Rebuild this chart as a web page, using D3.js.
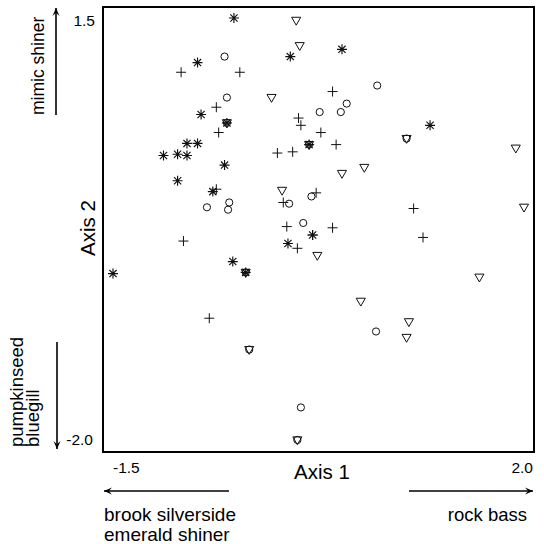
<!DOCTYPE html>
<html>
<head>
<meta charset="utf-8">
<script src="https://cdn.jsdelivr.net/npm/d3@7"></script>
<style>
  html, body { margin: 0; padding: 0; background: #fff; }
  svg { display: block; font-family: "Liberation Sans", Arial, Helvetica, sans-serif; }
</style>
</head>
<body>
<script>
// ---- Data (ordination scores) ----
const asteriskX = [-0.47, 0.01, -0.78, -0.75, -0.87, -0.78, -1.07, -0.95, -0.87, -0.55, -0.95, -0.65, 0.20, -0.01, -0.48, -1.50, 0.45, 1.20, -0.53, -0.37, 0.17];
const asteriskY = [1.50, 1.18, 1.13, 0.70, 0.46, 0.46, 0.36, 0.37, 0.36, 0.28, 0.15, 0.06, -0.30, -0.37, -0.52, -0.62, 1.24, 0.61, 0.63, -0.61, 0.45];

const plusX = [-0.92, -0.42, -0.62, -0.60, 0.08, 0.10, -0.10, 0.03, 0.37, 0.27, 0.40, -0.62, -0.05, 0.23, -0.02, 0.37, 0.07, -0.90, 1.06, 1.14, -0.68, 0.20];
const plusY = [1.05, 1.05, 0.76, 0.55, 0.67, 0.61, 0.38, 0.39, 0.89, 0.55, 0.45, 0.08, -0.03, 0.05, -0.23, -0.24, -0.41, -0.35, -0.08, -0.32, -0.99, -0.30];

const circleX = [-0.55, -0.53, 0.26, 0.75, 0.49, 0.44, 0.00, 0.19, 0.12, -0.70, -0.51, -0.52, 0.74, 0.10, 1.00, -0.34, 0.07, -0.53, -0.37, 0.17];
const circleY = [1.18, 0.84, 0.72, 0.94, 0.79, 0.72, -0.04, 0.02, -0.20, -0.07, -0.03, -0.09, -1.10, -1.73, 0.50, -1.25, -2.00, 0.63, -0.61, 0.45];

const triangleX = [0.06, 0.09, -0.15, 1.93, 0.45, 0.64, -0.06, 2.00, 0.24, 1.62, 0.61, 1.02, 1.00, 1.00, -0.34, 0.07, -0.53, -0.37, 0.17];
const triangleY = [1.48, 1.27, 0.84, 0.42, 0.21, 0.26, 0.07, -0.07, -0.47, -0.65, -0.85, -1.02, -1.15, 0.50, -1.25, -2.00, 0.63, -0.61, 0.45];

const xTickLabels = ["-1.5", "2.0"];
const yTickLabels = ["1.5", "-2.0"];
const xTickValues = [-1.5, 2.0];
const yTickValues = [1.5, -2.0];

const axisTitles = ["Axis 1", "Axis 2"];
const leftLabels = ["brook silverside", "emerald shiner"];
const rightLabels = ["rock bass"];
const topLabels = ["mimic shiner"];
const bottomLabels = ["pumpkinseed", "bluegill"];

// ---- Layout ----
const W = 544, H = 544;
const box = { left: 103, right: 534, top: 7, bottom: 452 };

const x = d3.scaleLinear().domain([-1.5, 2.0]).range([113, 524]);
const y = d3.scaleLinear().domain([-2.0, 1.5]).range([440, 18]);

const svg = d3.select("body").append("svg").attr("width", W).attr("height", H);

// Plot frame
svg.append("rect")
  .attr("x", box.left).attr("y", box.top)
  .attr("width", box.right - box.left).attr("height", box.bottom - box.top)
  .attr("fill", "none").attr("stroke", "#000").attr("stroke-width", 2);

const ink = "#111";
const g = svg.append("g").attr("fill", "none").attr("stroke", ink).attr("stroke-width", 1);

// circles
g.selectAll("circle.c").data(d3.zip(circleX, circleY)).join("circle")
  .attr("class", "c")
  .attr("cx", d => x(d[0])).attr("cy", d => y(d[1])).attr("r", 3.6);

// down triangles
const tri = d3.symbol().type(d3.symbolTriangle).size(36);
g.selectAll("path.t").data(d3.zip(triangleX, triangleY)).join("path")
  .attr("class", "t")
  .attr("d", tri)
  .attr("transform", d => `translate(${x(d[0])},${y(d[1]) - 0.5}) rotate(180)`);

// plus
const plusPath = "M-5,0H5M0,-5V5";
g.selectAll("path.p").data(d3.zip(plusX, plusY)).join("path")
  .attr("class", "p")
  .attr("d", plusPath)
  .attr("transform", d => `translate(${x(d[0])},${y(d[1])})`);

// asterisk (8 arms)
const astPath = "M-5,0H5M0,-5V5M-3.6,-3.6L3.6,3.6M-3.6,3.6L3.6,-3.6";
g.selectAll("path.a").data(d3.zip(asteriskX, asteriskY)).join("path")
  .attr("class", "a")
  .attr("d", astPath)
  .attr("stroke-width", 1.15)
  .attr("transform", d => `translate(${x(d[0])},${y(d[1])})`);

// ---- Axis labels ----
svg.append("text").attr("x", 113).attr("y", 473).attr("font-size", 15.5)
  .attr("text-anchor", "start").text(xTickLabels[0]);
svg.append("text").attr("x", 533).attr("y", 473).attr("font-size", 15.5)
  .attr("text-anchor", "end").text(xTickLabels[1]);
svg.append("text").attr("x", 95).attr("y", y(yTickValues[0]) + 8).attr("font-size", 15.5)
  .attr("text-anchor", "end").text(yTickLabels[0]);
svg.append("text").attr("x", 93).attr("y", y(yTickValues[1]) + 5).attr("font-size", 15.5)
  .attr("text-anchor", "end").text(yTickLabels[1]);

svg.append("text").attr("x", 322).attr("y", 479).attr("font-size", 20.5)
  .attr("text-anchor", "middle").text(axisTitles[0]);
svg.append("text").attr("transform", "translate(95,228) rotate(-90)").attr("font-size", 20.5)
  .attr("text-anchor", "middle").text(axisTitles[1]);

// ---- Arrows ----
function arrow(x1, y1, x2, y2) {
  svg.append("line").attr("x1", x1).attr("y1", y1).attr("x2", x2).attr("y2", y2)
    .attr("stroke", "#000").attr("stroke-width", 1.6);
  const ang = Math.atan2(y2 - y1, x2 - x1);
  const L = 8, Wd = 3.5;
  const bx = x2 - L * Math.cos(ang), by = y2 - L * Math.sin(ang);
  const nx = -Math.sin(ang), ny = Math.cos(ang);
  const mx = x2 - (L * 0.6) * Math.cos(ang), my = y2 - (L * 0.6) * Math.sin(ang);
  svg.append("path")
    .attr("d", `M${x2},${y2}L${bx + nx * Wd},${by + ny * Wd}L${mx},${my}L${bx - nx * Wd},${by - ny * Wd}Z`)
    .attr("fill", "#000");
}
arrow(229, 491, 104, 491);
arrow(409, 491, 533, 491);
arrow(56, 115, 56, 8);
arrow(57, 342, 57, 449);

// ---- Species labels ----
svg.append("text").attr("x", 104).attr("y", 521).attr("font-size", 19).text(leftLabels[0]);
svg.append("text").attr("x", 104).attr("y", 541).attr("font-size", 19).text(leftLabels[1]);
svg.append("text").attr("x", 527).attr("y", 521).attr("font-size", 18.5)
  .attr("text-anchor", "end").text(rightLabels[0]);
svg.append("text").attr("transform", "translate(44,115) rotate(-90)").attr("font-size", 17.5)
  .attr("text-anchor", "start").text(topLabels[0]);
svg.append("text").attr("transform", "translate(23,447) rotate(-90)").attr("font-size", 18.5)
  .attr("text-anchor", "start").text(bottomLabels[0]);
svg.append("text").attr("transform", "translate(39,447) rotate(-90)").attr("font-size", 18.5)
  .attr("text-anchor", "start").text(bottomLabels[1]);
</script>
</body>
</html>
